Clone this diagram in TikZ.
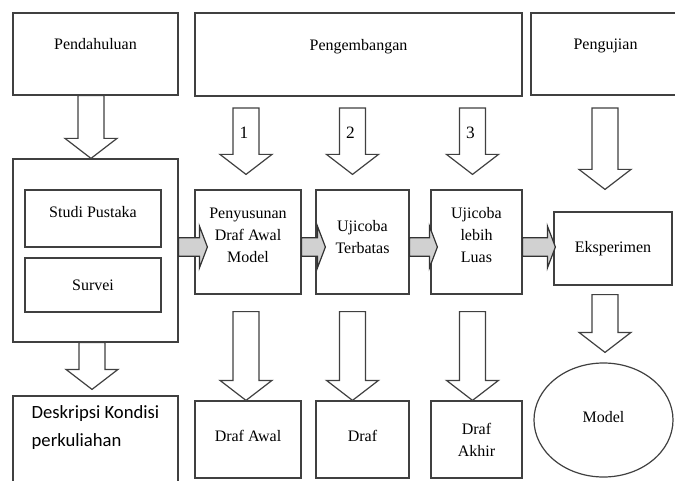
\documentclass[tikz,border=0pt]{standalone}
\usepackage{fontspec}
\setmainfont{Liberation Serif}
\newfontfamily\calibri{Carlito}
\usetikzlibrary{calc, positioning, shapes.geometric}

\newdimen\px
\px=0.75pt

\tikzset{
  box/.style={draw=black!75, line width=0.9pt, inner sep=1pt, font=\fontsize{12}{16.5}\selectfont, align=center},
  blockarrow/.style={draw=black!75, line width=0.9pt, fill=white, line join=miter},
  grayarrow/.style={draw=black!80, line width=0.9pt, fill=black!18},
  numlabel/.style={font=\fontsize{13}{15}\selectfont, inner sep=0pt},
  desktext/.style={font=\calibri\fontsize{14}{21}\selectfont, align=left, inner sep=0pt}
}

% block arrow pointing down, from #1 (top) to tip #2
\newcommand{\downblock}[2]{%
  \draw[blockarrow] let \p1=#1, \p2=#2 in
    (\x1-9.75pt,\y1) -- (\x1-9.75pt,\y2+15pt) -- (\x1-19.5pt,\y2+15pt) -- (\x1,\y2)
    -- (\x1+19.5pt,\y2+15pt) -- (\x1+9.75pt,\y2+15pt) -- (\x1+9.75pt,\y1) -- cycle;}

% grey block arrow pointing right, from #1 to tip #2
\newcommand{\rightblock}[2]{%
  \draw[grayarrow] let \p1=#1, \p2=#2 in
    (\x1,\y1+7pt) -- (\x2-6pt,\y1+7pt) -- (\x2-6pt,\y1+15.75pt) -- (\x2,\y1)
    -- (\x2-6pt,\y1-15.75pt) -- (\x2-6pt,\y1-7pt) -- (\x1,\y1-7pt) -- cycle;}

\begin{document}
\begin{tikzpicture}[x=0.75pt, y=-0.75pt]
  \useasboundingbox (0,0) rectangle (675,481);

  % Phase boxes
  \node[box, minimum width=165\px, minimum height=82\px, text depth=15pt] (pend) at (95.5,54) {Pendahuluan};
  \node[box, minimum width=327\px, minimum height=83\px, text depth=15pt] (dev) at (358.5,54.5) {Pengembangan};
  \node[box, minimum width=149\px, minimum height=82\px, text depth=15pt] (test) at (605.5,54) {Pengujian};

  % Preliminary study
  \node[box, minimum width=165\px, minimum height=183\px] (lit) at (95.5,250.5) {};
  \node[box, minimum width=136\px, minimum height=57\px, text depth=9.8pt] (studi) at (93,218.5) {Studi Pustaka};
  \node[box, minimum width=136\px, minimum height=54\px] (survei) at (93,285) {Survei};
  \node[box, minimum width=165\px, minimum height=94\px] (desk) at (95.5,443) {};
  \node[desktext, anchor=north west] (desklbl) at ($(desk.north west)+(19,10)$) {Deskripsi Kondisi\\perkuliahan};

  % Development steps
  \node[box, minimum width=106\px, minimum height=104\px, text depth=10.5pt] (pen) at (248,242) {Penyusunan\\Draf Awal\\Model};
  \node[box, minimum width=93\px, minimum height=104\px, text depth=7pt] (ter) at (362.5,242) {Ujicoba\\Terbatas};
  \node[box, minimum width=91\px, minimum height=104\px, text depth=10.5pt] (luas) at (476.5,242) {Ujicoba\\lebih\\Luas};
  \node[box, minimum width=118\px, minimum height=73\px] (eks) at (613,248.5) {Eksperimen};

  % Products
  \node[box, minimum width=106\px, minimum height=77\px, text depth=5pt] (dawal) at (248,439.5) {Draf Awal};
  \node[box, minimum width=93\px, minimum height=77\px, text depth=5pt] (draf) at (362.5,439.5) {Draf};
  \node[box, minimum width=91\px, minimum height=77\px] (akhir) at (476.5,439.5) {Draf\\Akhir};
  \node[box, ellipse, inner sep=0pt, minimum width=139\px, minimum height=114\px, text depth=4pt] (model) at (603.5,420) {Model};

  % Grey arrows between steps
  \coordinate (midy) at (0,247);
  \rightblock{(lit.east |- midy)}{($(pen.west |- midy)+(13,0)$)}
  \rightblock{(pen.east |- midy)}{($(ter.west |- midy)+(10,0)$)}
  \rightblock{(ter.east |- midy)}{($(luas.west |- midy)+(7,0)$)}
  \rightblock{(luas.east |- midy)}{($(eks.west |- midy)+(2,0)$)}

  % Down arrows
  \downblock{($(pend.south)+(-4.5,0)$)}{($(lit.north)+(-4.5,0)$)}
  \downblock{($(lit.south)+(-3.5,0)$)}{($(desk.north)+(-3.5,-6)$)}
  \coordinate (topy) at (0,108);
  \foreach \ub/\lb/\dx/\k in {pen/dawal/-2/1, ter/draf/-10/2, luas/akhir/-4/3}{
    \coordinate (src\k) at ($(\ub.north |- topy)+(\dx,0)$);
    \downblock{(src\k)}{($(\ub.north)+(\dx,-15)$)}
    \node[numlabel] (num\k) at ($(src\k)+(-2,25)$) {\k};
    \downblock{($(\ub.south)+(\dx,17)$)}{($(\lb.north)+(\dx,0)$)}
  }
  \downblock{($(eks.north |- topy)+(-8,0)$)}{($(eks.north)+(-8,-22)$)}
  \downblock{($(eks.south)+(-8,9)$)}{($(model.north)+(0,-10)$)}
\end{tikzpicture}
\end{document}
